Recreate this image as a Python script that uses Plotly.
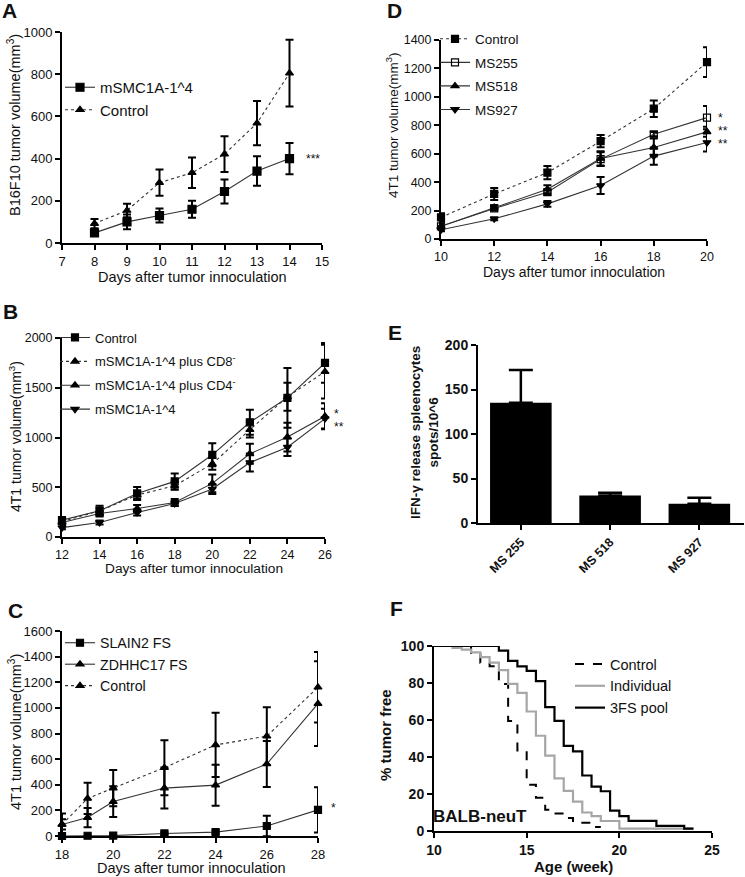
import plotly.graph_objects as go

W, H = 745, 877
FONT = "Arial, Liberation Sans, sans-serif"

# ---------------- data ----------------
A_days = [8, 9, 10, 11, 12, 13, 14]
A_msmc = [48, 100, 130, 160, 244, 341, 400]
A_msmc_err = [12, 35, 33, 40, 57, 70, 74]
A_ctrl = [92, 154, 286, 333, 421, 568, 805]
A_ctrl_err = [22, 32, 62, 72, 85, 105, 158]

B_days = [12, 14, 16, 18, 20, 22, 24, 26]
B_ctrl = [169, 263, 438, 559, 826, 1153, 1399, 1750]
B_ctrl_err = [25, 50, 65, 80, 115, 125, 300, 200]
B_cd8 = [155, 263, 421, 516, 735, 1079, 1409, 1662]
B_cd8_err = [20, 30, 40, 40, 60, 80, 140, 270]
B_cd4 = [145, 236, 286, 347, 539, 836, 1004, 1213]
B_cd4_err = [25, 30, 35, 35, 90, 100, 145, 130]
B_ms = [94, 145, 246, 337, 482, 748, 903, 1190]
B_ms_err = [15, 20, 30, 25, 50, 90, 90, 100]

C_days = [18, 19, 20, 22, 24, 26, 28]
C_slain = [0, 2, 3, 20, 30, 78, 204]
C_slain_err = [0, 0, 0, 10, 12, 80, 177]
C_zdhhc = [90, 144, 269, 374, 397, 562, 1033]
C_zdhhc_err = [40, 75, 120, 160, 160, 180, 330]
C_ctrl = [90, 293, 374, 533, 711, 779, 1161]
C_ctrl_err = [85, 122, 142, 215, 250, 225, 275]

D_days = [10, 12, 14, 16, 18, 20]
D_ctrl = [152, 317, 467, 688, 917, 1244]
D_ctrl_err = [30, 42, 47, 43, 58, 105]
D_ms255 = [89, 215, 329, 562, 737, 854]
D_ms255_err = [15, 15, 20, 48, 15, 82]
D_ms518 = [89, 222, 350, 567, 644, 754]
D_ms518_err = [15, 15, 28, 50, 63, 35]
D_ms927 = [65, 142, 247, 376, 583, 679]
D_ms927_err = [10, 10, 20, 60, 60, 64]

E_cats = ["MS 255", "MS 518", "MS 927"]
E_vals = [135, 31, 21.5]
E_err = [37, 3, 7]

F_ctrl_wk = [10, 12, 12.5, 13, 13.5, 14, 14.5, 15, 15.5, 16, 16.5, 17, 17.5, 18.5, 19]
F_ctrl_pct = [100, 95.5, 91, 89, 79.5, 59.5, 43.5, 25, 18, 11.5, 9.5, 7, 4.5, 2.2, 2.2]
F_ind_wk = [10, 11, 11.5, 12, 12.5, 13, 13.5, 14, 14.5, 15, 15.5, 16, 16.5, 17, 17.5, 18, 18.5, 19, 20, 24]
F_ind_pct = [100, 99, 98, 96.5, 94, 91, 87, 79.5, 74.7, 64.6, 51.5, 40.7, 28.4, 21.7, 15.9, 10, 8, 5.4, 1.3, 1.3]
F_pool_wk = [10, 13.5, 14, 14.5, 15, 15.5, 16, 16.5, 17, 17.5, 18, 18.5, 19, 19.5, 20, 20.5, 22, 23.5, 24]
F_pool_pct = [100, 97.5, 92, 89, 86.5, 81, 67, 59.5, 46, 43, 30, 24, 21.5, 11, 8, 5.5, 2.8, 1.3, 1.3]

# ---------------- helpers ----------------
def px(x):
    return x / W

def py(y):
    return 1 - y / H

LINE = "#333333"

def series(x, y, err, name, symbol, dash, xa, ya, legend, msize=7):
    return go.Scatter(
        x=x, y=y, name=name, mode="lines+markers",
        xaxis=xa, yaxis=ya, legend=legend, legendgroup=legend + name,
        line=dict(color=LINE, width=1.1, dash=dash),
        marker=dict(symbol=symbol, size=msize, color="black",
                    line=dict(color="black", width=1.2)),
        error_y=dict(type="data", array=err, visible=True, color="black",
                     thickness=2, width=4),
        cliponaxis=False,
    )

fig = go.Figure()

# Panel A
fig.add_trace(series(A_days, A_msmc, A_msmc_err, "mSMC1A-1^4", "square", "solid", "x", "y", "legend", 8))
fig.add_trace(series(A_days, A_ctrl, A_ctrl_err, "Control", "triangle-up", "dot", "x", "y", "legend", 7))

# Panel B
fig.add_trace(series(B_days, B_ctrl, B_ctrl_err, "Control", "square", "solid", "x2", "y2", "legend2"))
fig.add_trace(series(B_days, B_cd8, B_cd8_err, "mSMC1A-1^4 plus CD8<sup>-</sup>", "triangle-up", "dot", "x2", "y2", "legend2"))
fig.add_trace(series(B_days, B_cd4, B_cd4_err, "mSMC1A-1^4 plus CD4<sup>-</sup>", "triangle-up", "solid", "x2", "y2", "legend2"))
fig.add_trace(series(B_days, B_ms, B_ms_err, "mSMC1A-1^4", "triangle-down", "solid", "x2", "y2", "legend2"))

# Panel C
fig.add_trace(series(C_days, C_slain, C_slain_err, "SLAIN2 FS", "square", "solid", "x3", "y3", "legend3"))
fig.add_trace(series(C_days, C_zdhhc, C_zdhhc_err, "ZDHHC17 FS", "triangle-up", "solid", "x3", "y3", "legend3"))
fig.add_trace(series(C_days, C_ctrl, C_ctrl_err, "Control", "triangle-up", "dot", "x3", "y3", "legend3"))

# Panel D
fig.add_trace(series(D_days, D_ctrl, D_ctrl_err, "Control", "square", "dot", "x4", "y4", "legend4"))
fig.add_trace(series(D_days, D_ms255, D_ms255_err, "MS255", "square-open", "solid", "x4", "y4", "legend4"))
fig.add_trace(series(D_days, D_ms518, D_ms518_err, "MS518", "triangle-up", "solid", "x4", "y4", "legend4"))
fig.add_trace(series(D_days, D_ms927, D_ms927_err, "MS927", "triangle-down", "solid", "x4", "y4", "legend4"))

# Panel E
fig.add_trace(go.Bar(
    x=E_cats, y=E_vals, xaxis="x5", yaxis="y5", showlegend=False,
    marker=dict(color="black", line=dict(color="black", width=0)), width=0.69,
    error_y=dict(type="data", array=E_err, arrayminus=[0, 0, 0], symmetric=False,
                 visible=True, color="black", thickness=2.5, width=12),
))

# Panel F
fig.add_trace(go.Scatter(x=F_ctrl_wk, y=F_ctrl_pct, name="Control", mode="lines",
                         line=dict(color="black", width=2, dash="dash", shape="hv"),
                         xaxis="x6", yaxis="y6", legend="legend5"))
fig.add_trace(go.Scatter(x=F_ind_wk, y=F_ind_pct, name="Individual", mode="lines",
                         line=dict(color="#a6a6a6", width=2.2, shape="hv"),
                         xaxis="x6", yaxis="y6", legend="legend5"))
fig.add_trace(go.Scatter(x=F_pool_wk, y=F_pool_pct, name="3FS pool", mode="lines",
                         line=dict(color="black", width=2.2, shape="hv"),
                         xaxis="x6", yaxis="y6", legend="legend5"))

# ---------------- axes ----------------
def axis(domain, rng, anchor, size=12.5, **kw):
    d = dict(domain=domain, range=rng, anchor=anchor, showgrid=False, zeroline=False,
             showline=True, linecolor="black", linewidth=2, mirror=False,
             ticks="outside", ticklen=5, tickwidth=2, tickcolor="black",
             tickfont=dict(family=FONT, size=size, color="#111"))
    d.update(kw)
    return d

BOLD = lambda s: dict(family=FONT, size=s, color="#111", weight="bold")

lay = dict(
    width=W, height=H, margin=dict(l=0, r=0, t=0, b=0, autoexpand=False),
    paper_bgcolor="white", plot_bgcolor="white",
    font=dict(family=FONT, color="#111"),
    showlegend=True,
    xaxis=axis([px(62), px(322)], [7, 15], "y", 13, tickvals=list(range(7, 16))),
    yaxis=axis([py(243), py(32)], [0, 1000], "x", 13, tickvals=[0, 200, 400, 600, 800, 1000]),
    xaxis2=axis([px(62), px(325)], [12, 26], "y2", 12.5, tickvals=list(range(12, 27, 2))),
    yaxis2=axis([py(537), py(338)], [0, 2000], "x2", 12.5, tickvals=[0, 500, 1000, 1500, 2000]),
    xaxis3=axis([px(62), px(318)], [18, 28], "y3", 13, tickvals=list(range(18, 29, 2))),
    yaxis3=axis([py(836), py(631)], [0, 1600], "x3", 13, tickvals=list(range(0, 1601, 200))),
    xaxis4=axis([px(441), px(707)], [10, 20], "y4", 12.5, tickvals=list(range(10, 21, 2))),
    yaxis4=axis([py(239), py(40)], [0, 1400], "x4", 12.5, tickvals=list(range(0, 1401, 200))),
    xaxis5=axis([px(478), px(744)], [-0.48, 2.5], "y5", 12.5, type="category",
                tickangle=-45, tickfont=BOLD(12.5)),
    yaxis5=axis([py(523), py(345)], [0, 200], "x5", 14, tickvals=[0, 50, 100, 150, 200],
                tickfont=BOLD(14)),
    xaxis6=axis([px(434), px(712)], [10, 25], "y6", 14, tickvals=[10, 15, 20, 25],
                tickfont=BOLD(14)),
    yaxis6=axis([py(831), py(646)], [0, 100], "x6", 14, tickvals=[0, 20, 40, 60, 80, 100],
                tickfont=BOLD(14)),
)

def leg(x, y, size, gap=0):
    return dict(x=px(x), y=py(y), xanchor="left", yanchor="top", bgcolor="rgba(0,0,0,0)",
                font=dict(family=FONT, size=size, color="#111"), tracegroupgap=gap,
                itemclick=False)

lay["legend"] = leg(60, 71, 15, 0)
lay["legend2"] = leg(55, 322.5, 13, 4)
lay["legend3"] = leg(60, 627, 14.2, 0)
lay["legend4"] = leg(435, 23.5, 13.5, 3)
lay["legend5"] = leg(570, 648, 14.5, 0)

fig.update_layout(**lay)

# ---------------- text ----------------
ann = []

def txt(x, y, t, size, bold=False, angle=0, xanchor="center", yanchor="middle"):
    ann.append(dict(x=px(x), y=py(y), xref="paper", yref="paper", text=t, showarrow=False,
                    textangle=angle, xanchor=xanchor, yanchor=yanchor,
                    font=dict(family=FONT, size=size, color="#111",
                              weight="bold" if bold else "normal")))

# panel letters
for L, x, y in [("A", 0, 11), ("D", 385, 11), ("B", 1, 312), ("C", 6, 610), ("E", 386, 332), ("F", 388, 608)]:
    txt(x, y, L, 21, bold=True, xanchor="left")

# axis titles
txt(14, 125, "B16F10 tumor volume(mm<sup>3</sup>)", 14.5, angle=-90)
txt(192, 277, "Days after tumor innoculation", 14.5)
txt(15, 437, "4T1 tumor volume(mm<sup>3</sup>)", 14, angle=-90)
txt(194, 568, "Days after tumor innoculation", 13.7)
txt(15, 732, "4T1 tumor volume(mm<sup>3</sup>)", 14.5, angle=-90)
txt(191, 868, "Days after tumor innoculation", 14.5)
txt(392, 125, "4T1 tumor volume(mm<sup>3</sup>)", 13.5, angle=-90)
txt(574, 272, "Days after tumor innoculation", 14)
txt(424, 433, "IFN-\u03b3 release spleenocytes<br>spots/10^6", 13.5, bold=True, angle=-90)
txt(385, 735, "% tumor free", 15, bold=True, angle=-90)
txt(573, 866, "Age (week)", 15, bold=True)
txt(480, 816, "BALB-neuT", 17, bold=True)

# significance stars (data coordinates)
def star(xa, ya, x, y, t, shift):
    ann.append(dict(x=x, y=y, xref=xa, yref=ya, text=t, showarrow=False, xanchor="left",
                    yanchor="middle", xshift=shift, font=dict(family=FONT, size=12, color="#111")))

star("x", "y", 14, 400, "***", 14)
star("x4", "y4", 20, 854, "*", 9)
star("x4", "y4", 20, 758, "**", 9)
star("x4", "y4", 20, 665, "**", 9)
star("x2", "y2", 26, 1240, "*", 7)
star("x2", "y2", 26, 1105, "**", 7)
star("x3", "y3", 28, 222, "*", 11)

fig.update_layout(annotations=ann)

fig.write_html("out.html", config={"displayModeBar": False},
               post_script="document.body.style.margin='0px';document.body.style.padding='0px';")
